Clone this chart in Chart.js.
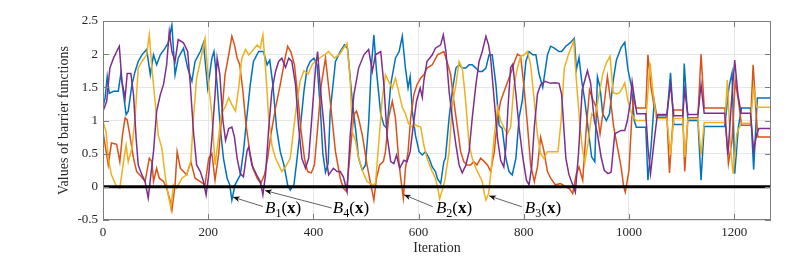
<!DOCTYPE html>
<html>
<head>
<meta charset="utf-8">
<script src="https://cdn.jsdelivr.net/npm/chart.js@4.4.1/dist/chart.umd.min.js"></script>
<style>
  html, body { margin: 0; padding: 0; background: #fff; }
</style>
</head>
<body>
<canvas id="barrierChart" width="789" height="261"></canvas>
<script>
// [iteration, value] pairs
const seriesB1 = [[0,1.21],[4,1.34],[8,1.66],[12,1.41],[20,1.44],[29,1.44],[34,1.71],[39,1.39],[44,1.09],[48,1.14],[55,1.54],[61,1.74],[67,1.89],[74,1.99],[83,2.07],[90,1.69],[96,1.99],[102,1.84],[109,1.99],[118,2.09],[124,2.17],[131,2.44],[137,1.69],[143,1.94],[153,2.09],[161,1.79],[169,1.59],[175,1.89],[185,2.04],[191,2.17],[199,1.49],[207,1.94],[211,2.04],[217,1.54],[223,0.88],[229,0.43],[236,0.13],[241,0.03],[245,-0.2],[251,0.03],[261,0.18],[267,0.53],[274,1.09],[280,1.54],[286,1.89],[296,2.04],[305,2.04],[312,1.84],[317,1.91],[323,1.54],[330,0.88],[337,0.53],[344,0.33],[351,0.03],[356,-0.05],[363,0.03],[369,0.43],[375,0.88],[382,1.44],[388,1.79],[394,1.89],[401,1.94],[407,1.84],[413,1.2],[418,0.5],[423,0.22],[428,0.35],[432,1.14],[442,1.89],[451,2.04],[459,2.14],[465,2.08],[474,1.29],[480,0.88],[486,0.43],[493,0.25],[499,0.33],[505,0.95],[510,1.8],[515,2.29],[520,1.74],[528,1.1],[534,0.93],[540,0.88],[547,1.54],[556,1.94],[563,2.04],[569,2.27],[575,1.79],[580,1.49],[584,1.66],[588,1.14],[594,0.78],[601,0.53],[607,0.48],[613,0.53],[620,0.43],[626,0.3],[632,0.23],[636,0.12],[642,0.05],[648,0.38],[651,0.43],[658,1.04],[664,1.44],[671,1.79],[677,1.84],[683,1.79],[690,1.79],[696,1.84],[702,1.84],[709,1.79],[715,1.74],[721,1.74],[728,1.79],[734,1.99],[740,1.99],[747,1.54],[753,0.93],[759,0.88],[766,0.43],[772,0.23],[778,0.18],[785,0.43],[791,1.04],[797,1.29],[804,1.89],[810,2.04],[817,1.99],[823,1.99],[829,1.7],[836,1.5],[845,1.99],[851,2.12],[858,2.09],[867,2.04],[872,2.04],[880,2.12],[888,2.17],[896,2.24],[900,1.77],[905,1.95],[910,1.6],[916,1.3],[922,0.9],[929,0.45],[935,0.38],[940,1.66],[945,1.5],[950,1.1],[957,1.0],[963,1.1],[970,1.6],[976,1.91],[985,2.1],[992,2.18],[998,1.77],[1005,1.5],[1010,1.0],[1014,0.9],[1032,0.9],[1036,0.1],[1042,0.6],[1048,1.29],[1053,1.05],[1072,1.05],[1079,1.72],[1085,0.94],[1102,0.94],[1105,1.86],[1112,1.0],[1131,1.0],[1137,0.1],[1143,0.91],[1182,0.91],[1190,1.5],[1196,1.72],[1201,0.2],[1208,0.9],[1214,1.19],[1231,1.19],[1237,0.26],[1244,1.34],[1270,1.34]];

const seriesB2 = [[0,0.83],[6,0.53],[10,0.33],[16,0.66],[26,0.64],[32,0.38],[37,0.78],[42,1.04],[46,1.01],[51,0.78],[58,0.43],[64,0.23],[70,0.18],[80,0.08],[88,0.43],[93,0.38],[96,0.08],[102,0.28],[107,0.13],[115,0.08],[121,-0.02],[128,-0.22],[131,-0.35],[137,0.03],[141,0.53],[147,0.28],[153,0.23],[159,0.18],[167,0.38],[175,0.13],[185,0.08],[194,0.03],[201,0.43],[207,0.5],[213,0.1],[220,0.5],[226,1.1],[232,1.69],[239,1.99],[245,2.27],[250,2.14],[255,1.94],[260,1.84],[266,1.44],[272,0.93],[279,0.53],[285,0.28],[293,0.13],[300,0.05],[307,0.18],[313,0.43],[319,0.78],[328,1.19],[337,1.54],[345,1.89],[351,2.12],[357,2.04],[364,1.84],[370,1.39],[376,0.88],[383,0.43],[389,0.23],[396,0.21],[402,0.33],[408,0.88],[415,1.54],[423,1.94],[432,1.29],[442,0.53],[451,0.13],[457,-0.02],[463,-0.07],[470,0.53],[477,1.09],[482,1.14],[486,1.03],[493,0.78],[502,0.33],[508,0.08],[515,-0.2],[520,0.13],[526,0.33],[533,0.38],[537,0.53],[543,1.04],[550,1.29],[556,1.04],[562,0.43],[566,0.13],[571,-0.17],[575,0.28],[580,0.53],[585,1.04],[591,1.39],[597,1.54],[604,1.64],[610,1.69],[616,1.79],[626,1.84],[636,1.99],[648,2.04],[654,1.89],[661,1.69],[667,1.29],[674,0.88],[680,0.53],[686,0.38],[692,0.33],[699,0.33],[705,0.38],[711,0.33],[718,0.43],[725,0.38],[731,0.33],[737,0.23],[744,0.53],[750,1.04],[756,1.29],[763,1.45],[770,1.6],[777,1.75],[783,1.9],[788,2.0],[794,1.97],[800,1.54],[807,0.93],[813,0.33],[820,0.08],[826,0.3],[832,0.75],[838,0.55],[845,0.23],[851,0.13],[860,0.03],[870,0.05],[880,0.0],[887,-0.03],[893,-0.1],[900,0.2],[905,0.3],[912,0.1],[919,0.9],[925,1.46],[932,1.3],[938,1.2],[945,0.8],[952,1.2],[959,1.66],[965,1.3],[971,0.9],[978,0.6],[985,0.3],[990,0.0],[993,-0.08],[1000,0.25],[1005,1.0],[1009,1.35],[1013,1.19],[1032,1.19],[1036,1.99],[1042,1.5],[1048,1.2],[1053,1.08],[1072,1.08],[1077,0.21],[1085,1.16],[1102,1.16],[1106,0.23],[1112,1.04],[1131,1.04],[1137,2.0],[1143,1.19],[1182,1.19],[1189,0.35],[1196,0.7],[1202,1.6],[1208,1.3],[1214,0.93],[1231,0.93],[1236,1.84],[1241,1.2],[1245,0.75],[1270,0.75]];

const seriesB3 = [[0,0.98],[6,0.83],[10,0.43],[16,0.18],[26,0.0],[32,-0.02],[39,0.38],[44,0.63],[48,0.38],[55,0.58],[61,1.04],[67,1.79],[74,1.89],[83,1.99],[88,2.29],[93,1.79],[99,1.29],[105,0.78],[112,0.58],[118,0.18],[124,-0.12],[129,-0.32],[134,0.03],[140,-0.02],[150,0.13],[159,0.18],[167,0.38],[172,1.04],[178,1.64],[185,1.89],[194,2.24],[201,1.54],[207,1.09],[213,0.33],[219,0.7],[225,1.1],[232,1.2],[239,1.34],[245,1.24],[252,1.14],[258,1.5],[264,1.94],[271,2.07],[277,1.99],[283,2.04],[293,2.14],[299,2.09],[304,2.29],[309,1.79],[315,1.04],[321,0.63],[328,0.43],[334,0.33],[340,0.23],[347,0.3],[356,0.43],[363,0.9],[369,1.3],[375,1.6],[382,1.75],[390,1.7],[398,1.85],[406,1.9],[413,1.95],[423,2.0],[429,2.04],[440,1.94],[450,2.0],[458,2.1],[464,2.16],[470,1.6],[474,0.83],[480,0.7],[486,0.43],[494,0.23],[502,0.08],[512,0.03],[518,0.05],[524,0.63],[531,1.34],[537,1.69],[543,1.59],[550,1.49],[556,1.64],[562,1.44],[569,1.2],[575,1.1],[581,0.95],[588,0.9],[594,0.93],[604,0.9],[610,0.63],[616,0.43],[626,0.23],[632,0.13],[636,0.0],[640,-0.18],[645,-0.05],[650,0.1],[658,0.53],[664,1.24],[671,1.54],[677,1.89],[683,1.79],[687,1.5],[690,1.24],[696,0.63],[702,0.43],[709,0.28],[715,0.18],[721,0.08],[725,-0.1],[728,-0.2],[733,-0.1],[737,0.18],[744,0.78],[750,1.19],[756,1.0],[763,0.88],[769,0.8],[775,0.9],[781,1.5],[788,1.8],[794,1.97],[801,1.99],[807,2.04],[813,1.84],[820,1.29],[826,0.78],[832,0.5],[838,0.43],[845,0.53],[851,0.53],[865,0.53],[871,1.0],[877,1.79],[885,2.0],[895,2.2],[900,1.6],[906,1.0],[911,0.6],[916,0.36],[922,0.65],[929,1.1],[935,1.05],[941,1.3],[950,1.7],[957,1.87],[964,1.97],[970,1.42],[976,1.4],[982,1.42],[988,1.5],[992,1.57],[998,1.3],[1005,1.1],[1013,1.0],[1032,1.0],[1040,1.87],[1046,1.4],[1052,1.03],[1072,1.03],[1079,0.48],[1085,1.03],[1102,1.03],[1106,0.45],[1112,1.02],[1131,1.02],[1137,0.48],[1143,0.97],[1182,0.97],[1187,1.61],[1193,0.6],[1198,0.2],[1205,0.8],[1213,0.96],[1231,0.96],[1237,1.5],[1243,1.2],[1270,1.2]];

const seriesB4 = [[0,1.14],[7,1.29],[13,1.79],[20,1.94],[26,2.04],[31,2.12],[36,1.59],[42,1.34],[46,1.71],[53,1.71],[58,1.39],[63,0.73],[67,0.33],[74,0.18],[80,0.08],[86,-0.17],[91,0.18],[96,0.53],[102,1.14],[109,1.39],[115,1.54],[121,1.84],[126,2.34],[131,2.04],[137,1.89],[143,2.22],[153,2.17],[161,2.04],[166,1.54],[172,0.83],[178,0.33],[185,0.23],[191,0.08],[196,-0.12],[201,0.18],[207,0.73],[213,1.39],[217,1.94],[222,1.7],[228,1.0],[233,0.7],[239,0.88],[245,0.9],[250,0.75],[255,0.43],[261,0.2],[267,0.15],[274,0.55],[277,0.6],[283,0.33],[292,0.18],[299,0.08],[304,-0.12],[309,0.18],[315,0.88],[321,1.44],[328,1.74],[334,1.89],[340,1.94],[347,1.8],[353,1.94],[359,1.89],[366,1.54],[372,0.9],[378,0.43],[385,0.28],[391,0.43],[397,1.04],[404,1.79],[408,2.04],[413,1.5],[420,0.93],[425,0.4],[429,0.18],[438,0.28],[445,0.23],[451,0.23],[457,0.15],[464,-0.07],[470,0.78],[477,1.39],[486,1.79],[496,1.99],[505,2.07],[512,1.74],[518,1.99],[528,2.04],[534,1.54],[540,0.78],[547,0.38],[553,0.35],[558,0.48],[564,0.28],[572,0.4],[578,0.38],[584,0.53],[590,0.93],[596,1.29],[603,1.49],[607,1.35],[610,1.6],[616,1.89],[626,1.99],[632,2.09],[642,2.14],[647,2.29],[652,2.04],[658,1.44],[664,1.04],[671,0.63],[677,0.33],[683,0.21],[690,0.33],[696,0.53],[702,1.04],[709,1.54],[715,1.89],[721,2.04],[728,2.27],[733,2.14],[737,1.94],[744,1.29],[750,0.73],[756,0.4],[762,0.3],[766,0.6],[770,1.2],[775,1.8],[779,1.85],[785,1.4],[791,0.9],[798,0.45],[805,0.1],[810,0.03],[815,0.3],[820,0.9],[826,1.4],[832,1.54],[840,1.59],[851,1.56],[860,1.57],[867,1.56],[872,1.39],[880,0.43],[886,0.18],[893,0.03],[898,-0.08],[904,0.5],[911,1.46],[921,1.75],[927,1.57],[934,1.0],[940,0.8],[947,0.45],[953,0.25],[960,0.2],[966,0.22],[973,0.8],[985,0.85],[992,0.85],[997,1.0],[1003,1.3],[1006,1.58],[1011,1.3],[1015,1.1],[1032,1.1],[1036,0.6],[1041,0.2],[1048,0.7],[1054,1.09],[1072,1.09],[1079,1.55],[1085,1.07],[1102,1.07],[1106,1.46],[1112,1.09],[1131,1.09],[1137,1.54],[1143,1.11],[1182,1.11],[1188,0.48],[1195,1.3],[1201,1.91],[1207,1.4],[1213,1.11],[1231,1.11],[1237,0.55],[1243,0.8],[1247,0.88],[1270,0.88]];

const xMax = 1270;
const yMin = -0.5, yMax = 2.5;

// arrow tip, arrow tail and text anchor, in data units
const notes = [
  { sub: '1', tip: [247, -0.155], tail: [304, -0.297], text: [308, -0.39] },
  { sub: '4', tip: [308, -0.056], tail: [435, -0.32], text: [437, -0.39] },
  { sub: '2', tip: [572, -0.12], tail: [627, -0.30], text: [633, -0.39] },
  { sub: '3', tip: [734, -0.136], tail: [796, -0.30], text: [802, -0.39] }
];

const serif = '"Liberation Serif", "Times New Roman", serif';
const toPoints = arr => arr.map(p => ({ x: p[0], y: p[1] }));
const plainNumber = v => String(Math.round(v * 100) / 100);

// MATLAB style box with inward ticks on all four sides
const axesBox = {
  id: 'axesBox',
  afterDatasetsDraw(chart) {
    const { ctx, chartArea: a, scales: { x, y } } = chart;
    const len = 6;
    ctx.save();
    ctx.strokeStyle = '#7d7d7d';
    ctx.lineWidth = 1;
    ctx.strokeRect(a.left + 0.5, a.top + 0.5, a.right - a.left - 1, a.bottom - a.top - 1);
    ctx.beginPath();
    x.ticks.forEach(t => {
      const px = Math.round(x.getPixelForValue(t.value)) + 0.5;
      ctx.moveTo(px, a.bottom); ctx.lineTo(px, a.bottom - len);
      ctx.moveTo(px, a.top); ctx.lineTo(px, a.top + len);
    });
    y.ticks.forEach(t => {
      const py = Math.round(y.getPixelForValue(t.value)) + 0.5;
      ctx.moveTo(a.left, py); ctx.lineTo(a.left + len, py);
      ctx.moveTo(a.right, py); ctx.lineTo(a.right - len, py);
    });
    ctx.stroke();
    ctx.restore();
  }
};

// B_i(x) labels with arrows
const arrowLabels = {
  id: 'arrowLabels',
  afterDraw(chart) {
    const { ctx, scales: { x, y } } = chart;
    ctx.save();
    notes.forEach(n => {
      const tx = x.getPixelForValue(n.tip[0]), ty = y.getPixelForValue(n.tip[1]);
      const sx = x.getPixelForValue(n.tail[0]), sy = y.getPixelForValue(n.tail[1]);
      ctx.strokeStyle = '#3a3a3a';
      ctx.fillStyle = '#111';
      ctx.lineWidth = 0.8;
      ctx.beginPath(); ctx.moveTo(sx, sy); ctx.lineTo(tx, ty); ctx.stroke();
      const ang = Math.atan2(ty - sy, tx - sx);
      const hl = 7, hw = 2.8;
      const bx = tx - hl * Math.cos(ang), by = ty - hl * Math.sin(ang);
      ctx.beginPath();
      ctx.moveTo(tx, ty);
      ctx.lineTo(bx + hw * Math.sin(ang), by - hw * Math.cos(ang));
      ctx.lineTo(tx - hl * 0.7 * Math.cos(ang), ty - hl * 0.7 * Math.sin(ang));
      ctx.lineTo(bx - hw * Math.sin(ang), by + hw * Math.cos(ang));
      ctx.closePath(); ctx.fill();

      let px = x.getPixelForValue(n.text[0]);
      const base = y.getPixelForValue(n.text[1]);
      ctx.fillStyle = '#000';
      ctx.textBaseline = 'alphabetic';
      ctx.textAlign = 'left';
      const parts = [
        { t: 'B', f: 'italic 17px ' + serif, dy: 0 },
        { t: n.sub, f: '12px ' + serif, dy: 4 },
        { t: '(', f: '17px ' + serif, dy: 0 },
        { t: 'x', f: 'bold 17px ' + serif, dy: 0 },
        { t: ')', f: '17px ' + serif, dy: 0 }
      ];
      parts.forEach(p => {
        ctx.font = p.f;
        ctx.fillText(p.t, px, base + p.dy);
        px += ctx.measureText(p.t).width;
      });
    });
    ctx.restore();
  }
};

const ctx = document.getElementById('barrierChart').getContext('2d');
new Chart(ctx, {
  type: 'line',
  data: {
    datasets: [
      { label: 'zero', data: [{ x: 0, y: 0 }, { x: xMax, y: 0 }], borderColor: '#000', borderWidth: 3 },
      { label: 'B4', data: toPoints(seriesB4), borderColor: '#7E2F8E' },
      { label: 'B3', data: toPoints(seriesB3), borderColor: '#EDB120' },
      { label: 'B2', data: toPoints(seriesB2), borderColor: '#D95319' },
      { label: 'B1', data: toPoints(seriesB1), borderColor: '#0072BD' }
    ]
  },
  options: {
    responsive: false,
    animation: false,
    devicePixelRatio: 1,
    layout: { padding: { top: 21, right: 18, left: 0, bottom: 0 } },
    elements: {
      point: { radius: 0 },
      line: { borderWidth: 1.5, tension: 0, fill: false }
    },
    plugins: { legend: { display: false }, tooltip: { enabled: false } },
    scales: {
      x: {
        type: 'linear',
        min: 0,
        max: xMax,
        afterFit: s => { s.height = 41; },
        grid: { color: '#e6e6e6', drawTicks: false },
        border: { display: false },
        ticks: {
          stepSize: 200, includeBounds: false, autoSkip: false, maxRotation: 0,
          padding: 5, color: '#262626', font: { family: serif, size: 13 },
          callback: plainNumber
        },
        title: {
          display: true, text: 'Iteration', color: '#262626',
          font: { family: serif, size: 14 }, padding: { top: 0, bottom: 4 }
        }
      },
      y: {
        min: yMin,
        max: yMax,
        afterFit: s => { s.width = 103; },
        grid: { color: '#e6e6e6', drawTicks: false },
        border: { display: false },
        ticks: {
          stepSize: 0.5, padding: 5, color: '#262626',
          font: { family: serif, size: 13 },
          callback: plainNumber
        },
        title: {
          display: true, text: 'Values of barrier functions', color: '#262626',
          font: { family: serif, size: 14 }, padding: { top: 56, bottom: 0 }
        }
      }
    }
  },
  plugins: [axesBox, arrowLabels]
});
</script>
</body>
</html>
